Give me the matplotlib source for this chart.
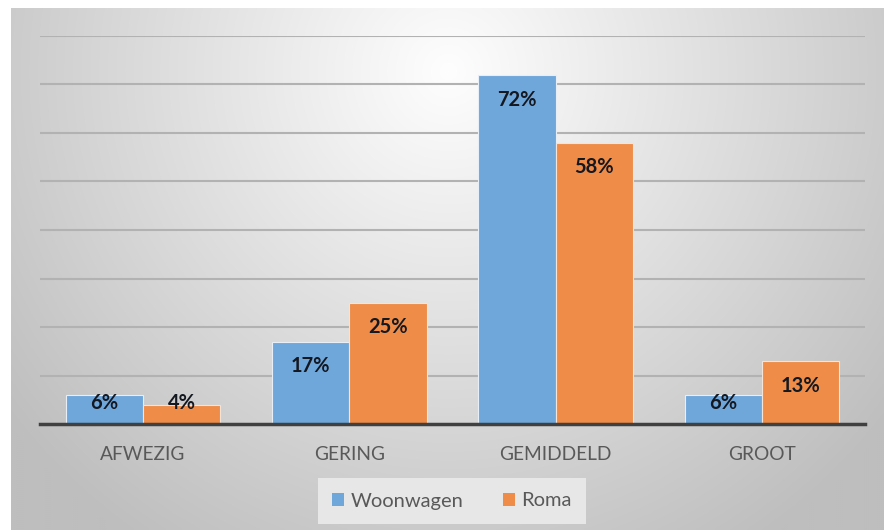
import numpy as np
import matplotlib
matplotlib.use("Agg")
import matplotlib.pyplot as plt
from matplotlib.patches import Patch

categories = ["AFWEZIG", "GERING", "GEMIDDELD", "GROOT"]
woonwagen = [6, 17, 72, 6]
roma = [4, 25, 58, 13]
series_names = ["Woonwagen", "Roma"]
colors = ["#6FA7DB", "#EE8C48"]

plt.rcParams["font.family"] = ["Lato", "DejaVu Sans"]

W, H = 884, 530
fig = plt.figure(figsize=(W / 100, H / 100), dpi=100)
fig.patch.set_facecolor("white")

# radial gradient background panel
bg = fig.add_axes([11 / W, 0, 1 - 11 / W, 1 - 8 / H])
bg.set_axis_off()
ny, nx = 261, 437
yy, xx = np.mgrid[0:ny, 0:nx]
cx, cy = nx * 0.5, ny * 0.12
r = np.sqrt(((xx - cx) / (nx * 0.62)) ** 2 + ((yy - cy) / (ny * 1.05)) ** 2)
v = np.clip(254 - 62 * r, 190, 254) / 255.0
img = np.dstack([v, v, v])
bg.imshow(img, aspect="auto", extent=[0, 1, 0, 1], origin="upper", interpolation="bilinear")
bg.set_xlim(0, 1)
bg.set_ylim(0, 1)

ax = fig.add_axes([40 / W, 1 - 424 / H, (865 - 40) / W, (424 - 36) / H])
ax.patch.set_alpha(0)

x = np.arange(len(categories))
bw = 0.375
b1 = ax.bar(x - bw / 2, woonwagen, bw, color=colors[0], edgecolor="#e8eef5", linewidth=0.8, zorder=3)
b2 = ax.bar(x + bw / 2, roma, bw, color=colors[1], edgecolor="#f3e3d8", linewidth=0.8, zorder=3)

ax.set_xlim(-0.5, len(categories) - 0.5)
ax.set_ylim(0, 80)
ax.set_yticks(np.arange(10, 81, 10))
ax.yaxis.grid(True, color="#b2b2b2", linewidth=1.5, zorder=0)
ax.tick_params(axis="y", left=False, labelleft=False)
ax.set_xticks(x)
ax.set_xticklabels(categories, fontsize=13.8, color="#595959")
ax.tick_params(axis="x", length=0, pad=16)
for s in ["top", "right", "left"]:
    ax.spines[s].set_visible(False)
ax.spines["bottom"].set_color("#404040")
ax.spines["bottom"].set_linewidth(2.5)
ax.spines["bottom"].set_zorder(4)

for bars, vals in [(b1, woonwagen), (b2, roma)]:
    for rect, val in zip(bars, vals):
        ypos = max(val - 5.1, 4.4)
        ax.text(rect.get_x() + rect.get_width() / 2, ypos, f"{val}%",
                ha="center", va="center", fontsize=14.5, fontweight="bold",
                color="#141820", zorder=5)

handles = [Patch(facecolor=c, edgecolor="none") for c in colors]
leg = fig.legend(handles, series_names, loc="center", bbox_to_anchor=(452 / W, 1 - 501 / H),
                 ncol=2, fontsize=14.5, frameon=True, fancybox=False,
                 handlelength=0.6, handleheight=0.6, handletextpad=0.3,
                 columnspacing=2.0, borderpad=0.7)
leg.get_frame().set_facecolor("#e7e7e7")
leg.get_frame().set_edgecolor("none")
leg.get_frame().set_alpha(1)
for t in leg.get_texts():
    t.set_color("#595959")

fig.savefig("out.png", dpi=100, facecolor=fig.get_facecolor())
